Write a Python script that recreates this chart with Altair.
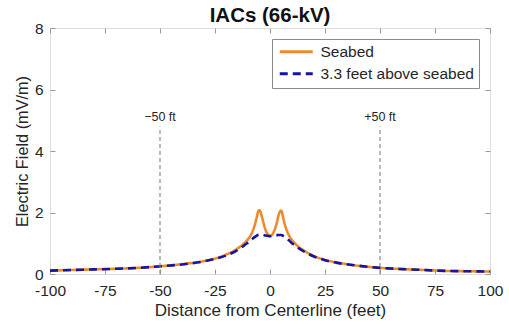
import altair as alt
import pandas as pd

x_vals = [-100, -90, -80, -70, -60, -50, -40, -30, -25, -20, -17, -15, -13, -11, -10, -9, -8, -7, -6, -5.5, -5, -4.5, -4, -3, -2, -1, 0,
          1, 2, 3, 4, 4.5, 5, 5.5, 6, 7, 8, 9, 10, 11, 13, 15, 17, 20, 25, 30, 40, 50, 60, 70, 80, 90, 100]
seabed = [0.11, 0.13, 0.15, 0.17, 0.20, 0.25, 0.32, 0.42, 0.50, 0.63, 0.73, 0.82, 0.92, 1.05, 1.13, 1.23, 1.37, 1.58, 1.85, 2.0, 2.07, 2.05, 1.95, 1.67, 1.43, 1.29, 1.24,
          1.28, 1.42, 1.64, 1.94, 2.03, 2.06, 2.0, 1.83, 1.55, 1.35, 1.21, 1.10, 1.02, 0.88, 0.78, 0.69, 0.58, 0.46, 0.38, 0.27, 0.20, 0.16, 0.13, 0.10, 0.09, 0.08]
above = [0.11, 0.13, 0.15, 0.17, 0.20, 0.25, 0.31, 0.41, 0.49, 0.60, 0.69, 0.77, 0.86, 0.97, 1.02, 1.08, 1.14, 1.20, 1.25, 1.27, 1.28, 1.28, 1.28, 1.27, 1.25, 1.24, 1.23,
         1.24, 1.25, 1.26, 1.27, 1.27, 1.27, 1.26, 1.24, 1.19, 1.13, 1.07, 1.00, 0.95, 0.84, 0.75, 0.67, 0.57, 0.45, 0.37, 0.27, 0.20, 0.16, 0.13, 0.10, 0.09, 0.08]
series_names = ["Seabed", "3.3 feet above seabed"]
series_colors = ["#EE8A2A", "#1515A0"]

ref_x = [-50, 50]
ref_top = [4.8, 4.8]
ref_labels = ["\u221250 ft", "+50 ft"]
ref_label_y = [4.88, 4.88]

x_ticks = [-100, -75, -50, -25, 0, 25, 50, 75, 100]
y_ticks = [0, 2, 4, 6, 8]

rows = []
for name, vals in zip(series_names, [seabed, above]):
    for xv, yv in zip(x_vals, vals):
        rows.append({"x": xv, "y": yv, "series": name})
df = pd.DataFrame(rows)
ref_df = pd.DataFrame({"x": ref_x, "y0": [0, 0], "y1": ref_top, "label": ref_labels, "ly": ref_label_y})

FONT = "Liberation Sans"
TXT = "#262626"
GRID = "#9a9a9a"

xscale = alt.Scale(domain=[-100, 100], nice=False)
yscale = alt.Scale(domain=[0, 8], nice=False)

main_x_axis = alt.Axis(values=x_ticks, tickSize=0, labelFontSize=15.5, labelFont=FONT, labelColor=TXT,
                       labelPadding=9, labelFlush=False, labelExpr="replace(datum.label, '\u2212', '-')",
                       title="Distance from Centerline (feet)", titleFontSize=17,
                       titleFont=FONT, titleColor=TXT, titleFontWeight="normal", titlePadding=4,
                       domain=False, grid=False)
main_y_axis = alt.Axis(values=y_ticks, tickSize=0, labelFontSize=15.5, labelFont=FONT, labelColor=TXT,
                       labelPadding=7, labelFlush=False, title="Electric Field (mV/m)", titleFontSize=16.3,
                       titleFont=FONT, titleColor=TXT, titleFontWeight="normal", titlePadding=4,
                       domain=False, grid=False)

lines = alt.Chart(df).mark_line(interpolate="monotone", strokeWidth=2.6).encode(
    x=alt.X("x:Q", scale=xscale, axis=main_x_axis),
    y=alt.Y("y:Q", scale=yscale, axis=main_y_axis),
    color=alt.Color("series:N", scale=alt.Scale(domain=series_names, range=series_colors),
                    legend=alt.Legend(title=None, orient="top-right", offset=11, strokeColor="#8a8a8a",
                                      fillColor="white", padding=5, labelFontSize=15.5, labelFont=FONT,
                                      labelColor=TXT, symbolType="M-1,0H5.6", symbolSize=100,
                                      symbolStrokeWidth=2.8, labelOffset=28, rowPadding=5,
                                      labelLimit=300)),
    strokeDash=alt.StrokeDash("series:N", scale=alt.Scale(domain=series_names, range=[[1, 0], [8, 5]]),
                              legend=alt.Legend(title=None, orient="top-right", offset=11)),
    detail="series:N",
)

tick_x_in = alt.Axis(values=x_ticks, orient="bottom", offset=-5, tickSize=5, labels=False, domain=False,
                     title=None, grid=False, tickColor=GRID, tickWidth=1)
tick_y_in = alt.Axis(values=y_ticks, orient="left", offset=-5, tickSize=5, labels=False, domain=False,
                     title=None, grid=False, tickColor=GRID, tickWidth=1)

rules = alt.Chart(ref_df).mark_rule(color="#8c8c8c", strokeDash=[4, 3], strokeWidth=1.2).encode(
    x=alt.X("x:Q", scale=xscale, axis=tick_x_in),
    y=alt.Y("y0:Q", scale=yscale, axis=tick_y_in),
    y2="y1:Q",
)

tick_x_top = alt.Axis(values=x_ticks, orient="top", offset=-5, tickSize=5, labels=False, domain=False,
                      title=None, grid=False, tickColor=GRID, tickWidth=1)
tick_y_right = alt.Axis(values=y_ticks, orient="right", offset=-5, tickSize=5, labels=False, domain=False,
                        title=None, grid=False, tickColor=GRID, tickWidth=1)

texts = alt.Chart(ref_df).mark_text(font=FONT, fontSize=12.5, color=TXT, baseline="bottom").encode(
    x=alt.X("x:Q", scale=xscale, axis=tick_x_top),
    y=alt.Y("ly:Q", scale=yscale, axis=tick_y_right),
    text="label:N",
)

chart = alt.layer(lines, rules, texts).resolve_axis(x="independent", y="independent").properties(
    width=440, height=246,
    title=alt.TitleParams("IACs (66-kV)", font=FONT, fontSize=20.5, fontWeight="bold", color="#111111",
                          anchor="middle", offset=-5),
    autosize=alt.AutoSizeParams(type="none"),
    padding={"left": 50, "top": 28, "right": 19, "bottom": 55},
).configure_view(stroke=GRID, strokeWidth=1.2).configure(background="white")

chart.save("out.html", embed_options={"renderer": "svg", "actions": False})
